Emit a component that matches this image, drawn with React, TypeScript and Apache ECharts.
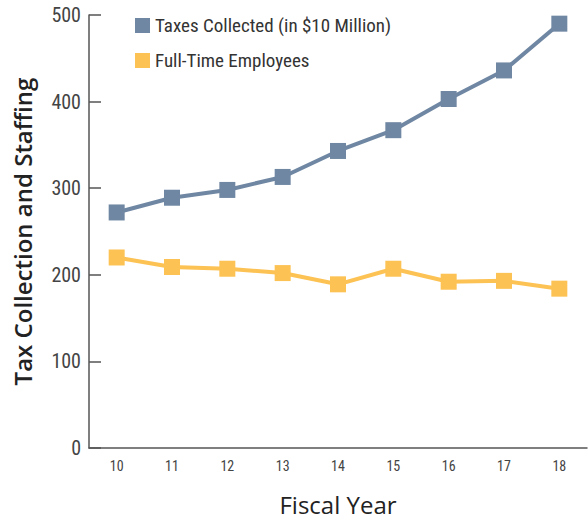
import React, { useEffect, useRef } from "react";
import * as echarts from "echarts";

const years = ["10", "11", "12", "13", "14", "15", "16", "17", "18"];
const taxesCollected = [272, 289, 298, 313, 343, 367, 403, 436, 490];
const fullTimeEmployees = [220, 209, 207, 202, 189, 207, 192, 193, 184];
const seriesNames = ["Taxes Collected (in $10 Million)", "Full-Time Employees"];

const narrow = "'Liberation Sans Narrow', 'Roboto Condensed', Roboto, sans-serif";

export default function App() {
  const ref = useRef<HTMLDivElement>(null);
  useEffect(() => {
    document.body.style.margin = "0";
    const chart = echarts.init(ref.current!, null, { renderer: "svg" });
    chart.setOption({
      animation: false,
      backgroundColor: "#ffffff",
      grid: { left: 89, right: 1, top: 15, bottom: 72, outerBoundsMode: "none", containLabel: false },
      legend: {
        orient: "vertical",
        left: 130,
        top: 11,
        itemWidth: 15,
        itemHeight: 15,
        itemGap: 16,
        icon: "rect",
        textStyle: { fontSize: 19, color: "#333", fontFamily: narrow },
        data: seriesNames,
      },
      xAxis: {
        type: "category",
        data: years,
        boundaryGap: true,
        axisLine: { lineStyle: { color: "#555", width: 1.5 } },
        axisTick: { inside: true, length: 10, lineStyle: { color: "#333", width: 1.5 } },
        axisLabel: { fontSize: 14, color: "#444", margin: 11, fontFamily: narrow },
        name: "Fiscal Year",
        nameLocation: "middle",
        nameGap: 44,
        nameTextStyle: { fontSize: 24, color: "#222", fontWeight: 500, fontFamily: "'Open Sans', sans-serif" },
      },
      yAxis: {
        type: "value",
        min: 0,
        max: 500,
        interval: 100,
        splitLine: { show: false },
        axisLine: { show: true, lineStyle: { color: "#555", width: 1.5 } },
        axisTick: { show: true, inside: true, length: 12, lineStyle: { color: "#555", width: 1.5 } },
        axisLabel: { fontSize: 20, color: "#444", margin: 8, fontFamily: narrow },
        name: "Tax Collection and Staffing",
        nameLocation: "middle",
        nameRotate: 90,
        nameGap: 55,
        nameTextStyle: { fontSize: 24, color: "#222", fontWeight: 600, fontFamily: "'Open Sans', sans-serif" },
      },
      series: [
        {
          name: seriesNames[0],
          type: "line",
          data: taxesCollected,
          symbol: "rect",
          symbolSize: 16,
          color: "#6f87a3",
          lineStyle: { width: 4, color: "#6f87a3" },
          itemStyle: { color: "#6f87a3" },
        },
        {
          name: seriesNames[1],
          type: "line",
          data: fullTimeEmployees,
          symbol: "rect",
          symbolSize: 16,
          color: "#fdc254",
          lineStyle: { width: 4, color: "#fdc254" },
          itemStyle: { color: "#fdc254" },
        },
      ],
    });
    return () => chart.dispose();
  }, []);
  return <div ref={ref} style={{ width: 588, height: 520 }} />;
}
